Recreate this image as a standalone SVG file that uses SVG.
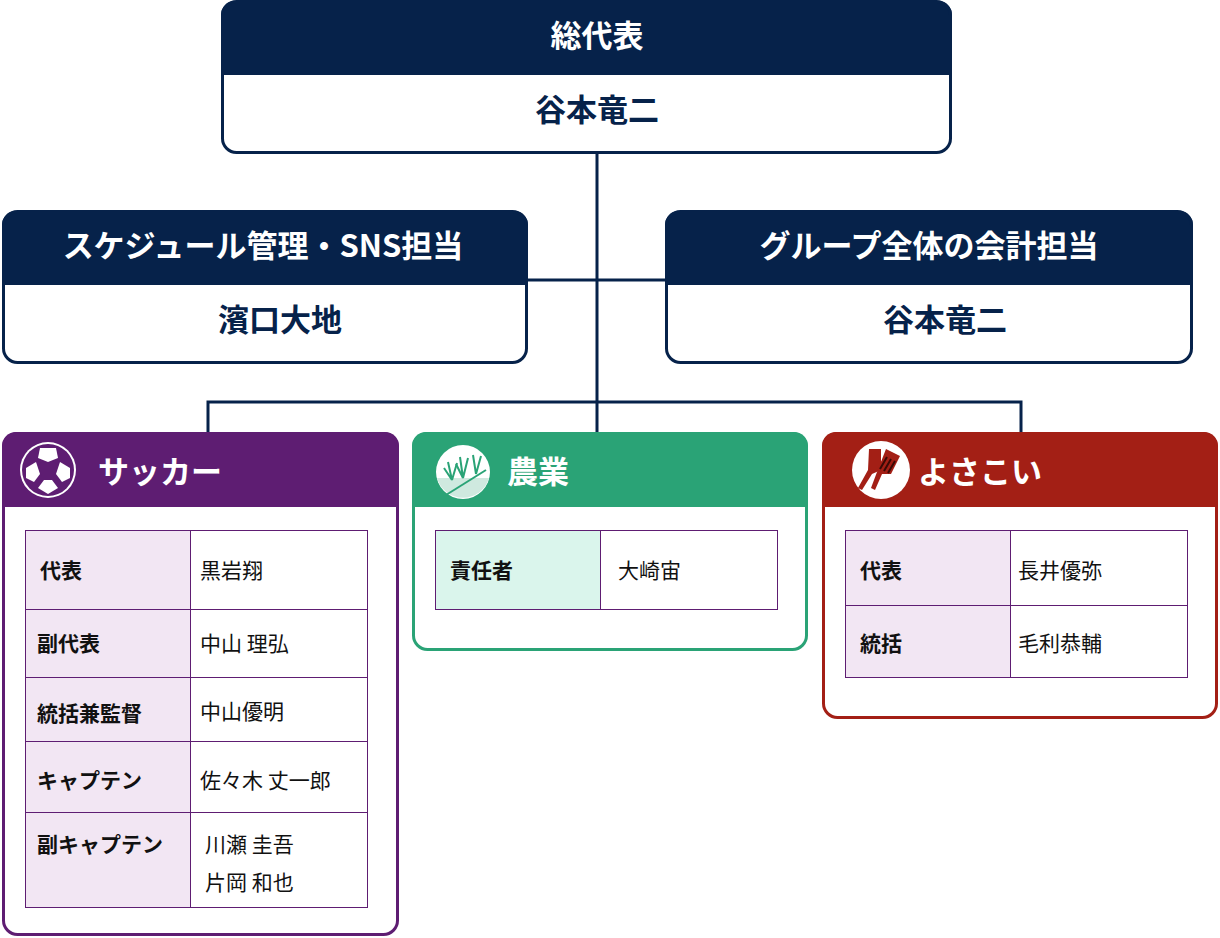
<svg xmlns="http://www.w3.org/2000/svg" width="1220" height="938" viewBox="0 0 1220 938">
<style>
text{font-family:"Noto Sans CJK JP","Noto Sans",sans-serif}
.h{fill:#fff;font-size:31px;font-weight:700;text-anchor:middle}
.n{fill:#06224a;font-size:31px;font-weight:700;text-anchor:middle}
.lb{font-size:21px;font-weight:700;fill:#111}
.vl{font-size:21px;fill:#111}
.c{fill:none;stroke:#06224a;stroke-width:3}
.cell{stroke-width:1}
</style>
<rect width="1220" height="938" fill="#fff"/>
<g id="connectors">
<path class="c" d="M597 153V432M527 280H665M208 432V402H1021V432"/>
</g>
<g id="top">
<path d="M235 1H938a14 14 0 0 1 14 14V75H221V15a14 14 0 0 1 14-14z" fill="#06224a"/>
<rect x="222.5" y="1.5" width="728" height="151" rx="14" fill="none" stroke="#06224a" stroke-width="3"/>
<text class="h" x="597" y="47">総代表</text>
<text class="n" x="597" y="121">谷本竜二</text>
</g>
<g id="sns">
<path d="M16 211H514a14 14 0 0 1 14 14V285H2V225a14 14 0 0 1 14-14z" fill="#06224a"/>
<rect x="3.5" y="211.5" width="523" height="151" rx="14" fill="none" stroke="#06224a" stroke-width="3"/>
<text class="h" x="263" y="257">スケジュール管理・SNS担当</text>
<text class="n" x="280" y="331">濱口大地</text>
</g>
<g id="account">
<path d="M679 211H1179a14 14 0 0 1 14 14V285H665V225a14 14 0 0 1 14-14z" fill="#06224a"/>
<rect x="666.5" y="211.5" width="525" height="151" rx="14" fill="none" stroke="#06224a" stroke-width="3"/>
<text class="h" x="929" y="257">グループ全体の会計担当</text>
<text class="n" x="945" y="331">谷本竜二</text>
</g>
<g id="soccer">
<path d="M16 432H385a14 14 0 0 1 14 14V507H2V446a14 14 0 0 1 14-14z" fill="#5e1d72"/>
<rect x="3.5" y="433.5" width="394" height="501" rx="14" fill="none" stroke="#5e1d72" stroke-width="3"/>
<circle cx="48" cy="470" r="28" fill="#fff"/>
<circle cx="48" cy="470" r="26" fill="#5e1d72"/>
<g fill="#fff">
<polygon points="48,458 58,465 54,477 42,477 38,465" fill="#5e1d72"/>
<path d="M40 448 L56 448 L58 458 L48 462 L38 458Z"/>
<path d="M26 468 L36 462 L40 474 L34 482 L26 478Z"/>
<path d="M70 468 L60 462 L56 474 L62 482 L70 478Z"/>
<path d="M38 488 L44 480 L52 480 L58 488 L48 494Z"/>
</g>
<text x="98" y="483" fill="#fff" font-size="31" font-weight="700">サッカー</text>
<g stroke="#5e1d72">
<rect class="cell" x="25.5" y="530.5" width="165" height="79" fill="#f2e6f3"/>
<rect class="cell" x="190.5" y="530.5" width="177" height="79" fill="#fff"/>
<rect class="cell" x="25.5" y="609.5" width="165" height="68" fill="#f2e6f3"/>
<rect class="cell" x="190.5" y="609.5" width="177" height="68" fill="#fff"/>
<rect class="cell" x="25.5" y="677.5" width="165" height="64" fill="#f2e6f3"/>
<rect class="cell" x="190.5" y="677.5" width="177" height="64" fill="#fff"/>
<rect class="cell" x="25.5" y="741.5" width="165" height="71" fill="#f2e6f3"/>
<rect class="cell" x="190.5" y="741.5" width="177" height="71" fill="#fff"/>
<rect class="cell" x="25.5" y="812.5" width="165" height="95" fill="#f2e6f3"/>
<rect class="cell" x="190.5" y="812.5" width="177" height="95" fill="#fff"/>
</g>
<text class="lb" x="40" y="578">代表</text><text class="vl" x="200" y="578">黒岩翔</text>
<text class="lb" x="37" y="651">副代表</text><text class="vl" x="200" y="651">中山 理弘</text>
<text class="lb" x="37" y="721">統括兼監督</text><text class="vl" x="200" y="719">中山優明</text>
<text class="lb" x="37" y="788">キャプテン</text><text class="vl" x="200" y="788">佐々木 丈一郎</text>
<text class="lb" x="37" y="852">副キャプテン</text><text class="vl" x="205" y="852">川瀬 圭吾</text><text class="vl" x="205" y="890">片岡 和也</text>
</g>
<g id="agri">
<path d="M426 432H794a14 14 0 0 1 14 14V507H412V446a14 14 0 0 1 14-14z" fill="#2aa376"/>
<rect x="413.5" y="433.5" width="393" height="216" rx="14" fill="none" stroke="#2aa376" stroke-width="3"/>
<circle cx="463" cy="472" r="27" fill="#fff"/>
<path d="M437 478 A27 27 0 0 0 489 478Z" fill="#cfe9df"/>
<path d="M446 495 L486 470" stroke="#2aa376" stroke-width="2"/>
<g stroke="#2aa376" stroke-width="2" fill="none">
<path d="M452 480 L448 462 M452 480 L457 463 M452 480 L444 468"/>
<path d="M463 478 L460 457 M463 478 L468 458 M463 478 L456 464"/>
<path d="M476 474 L473 455 M476 474 L481 456"/>
</g>
<text x="507" y="483" fill="#fff" font-size="31" font-weight="700">農業</text>
<rect x="435.5" y="530.5" width="165" height="79" fill="#daf5ec" stroke="#5e1d72"/>
<rect x="600.5" y="530.5" width="177" height="79" fill="#fff" stroke="#5e1d72"/>
<text class="lb" x="450" y="578">責任者</text><text class="vl" x="618" y="578">大崎宙</text>
</g>
<g id="yosakoi">
<path d="M836 432H1204a14 14 0 0 1 14 14V507H822V446a14 14 0 0 1 14-14z" fill="#a31f15"/>
<rect x="823.5" y="433.5" width="393" height="284" rx="14" fill="none" stroke="#a31f15" stroke-width="3"/>
<circle cx="881" cy="470" r="29" fill="#fff"/>
<g fill="#a31f15">
<path d="M869 449 L881 449 L881 470 L872 474 L862 490 L858 488 L868 470Z"/>
<path d="M886 449 L900 456 L891 474 L882 474 L875 490 L871 488 L877 472Z"/>
</g>
<g stroke="#3a0a06" stroke-width="2"><path d="M887 457 L880 469 M891 459 L884 471 M895 461 L888 473"/></g>
<text x="918" y="483" fill="#fff" font-size="31" font-weight="700">よさこい</text>
<rect x="845.5" y="530.5" width="165" height="75" fill="#f2e6f3" stroke="#5e1d72"/>
<rect x="1010.5" y="530.5" width="177" height="75" fill="#fff" stroke="#5e1d72"/>
<rect x="845.5" y="605.5" width="165" height="72" fill="#f2e6f3" stroke="#5e1d72"/>
<rect x="1010.5" y="605.5" width="177" height="72" fill="#fff" stroke="#5e1d72"/>
<text class="lb" x="860" y="578">代表</text><text class="vl" x="1018" y="578">長井優弥</text>
<text class="lb" x="860" y="651">統括</text><text class="vl" x="1018" y="651">毛利恭輔</text>
</g>
</svg>
